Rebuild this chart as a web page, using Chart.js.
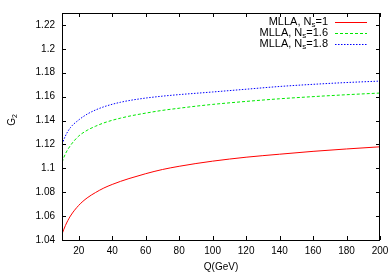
<!DOCTYPE html>
<html>
<head>
<meta charset="utf-8">
<script src="https://cdn.jsdelivr.net/npm/chart.js@4.4.0/dist/chart.umd.min.js"></script>
<style>
  html, body { margin: 0; padding: 0; background: #fff; }
  #wrap { width: 389px; height: 273px; position: relative; }
</style>
</head>
<body>
<div id="wrap"><canvas id="chart"></canvas></div>
<script>
// Q values (GeV)
const qValues = [10, 12, 15, 20, 25, 30, 35, 40, 45, 50, 60, 70, 80, 90, 100, 120, 140, 160, 180, 200];

// G2 curves
const g2Ns1  = [1.045, 1.052, 1.060, 1.069, 1.0752, 1.0797, 1.0835, 1.0865, 1.0891, 1.0914, 1.0955, 1.099, 1.1017, 1.104, 1.106, 1.1093, 1.1118, 1.1142, 1.1162, 1.118];
const g2Ns16 = [1.105, 1.112, 1.119, 1.127, 1.1318, 1.1352, 1.138, 1.1402, 1.142, 1.1436, 1.1462, 1.1485, 1.1503, 1.152, 1.1535, 1.156, 1.1582, 1.16, 1.1616, 1.163];
const g2Ns18 = [1.120, 1.127, 1.134, 1.1405, 1.1453, 1.1488, 1.1515, 1.1536, 1.1553, 1.1567, 1.1588, 1.1604, 1.1617, 1.1628, 1.1639, 1.1662, 1.1685, 1.1703, 1.1718, 1.173];

const seriesNs = ['1', '1.6', '1.8'];
const seriesColors = ['#ff0000', '#00e800', '#0000ff'];
const seriesDash = [[], [3, 2], [1.5, 1.5]];

const xTicks = [20, 40, 60, 80, 100, 120, 140, 160, 180, 200];
const yTicks = [1.04, 1.06, 1.08, 1.1, 1.12, 1.14, 1.16, 1.18, 1.2, 1.22];

const FONT = '"Liberation Sans", Arial, sans-serif';

function toPoints(ys) {
    return qValues.map((q, i) => ({ x: q, y: ys[i] }));
}

// border, inward ticks on all sides, legend and y title (with subscripts)
const gnuplotLook = {
    id: 'gnuplotLook',
    afterDraw(chart) {
        const ctx = chart.ctx;
        const a = chart.chartArea;
        const xs = chart.scales.x, ys = chart.scales.y;
        ctx.save();
        ctx.strokeStyle = '#000';
        ctx.lineWidth = 1;
        ctx.strokeRect(Math.round(a.left) + 0.5, Math.round(a.top) + 0.5,
            Math.round(a.right - a.left) - 1, Math.round(a.bottom - a.top));
        ctx.beginPath();
        const tl = 4;
        xTicks.forEach(v => {
            const px = Math.round(xs.getPixelForValue(v)) + 0.5;
            ctx.moveTo(px, a.bottom); ctx.lineTo(px, a.bottom - tl);
            ctx.moveTo(px, a.top); ctx.lineTo(px, a.top + tl);
        });
        yTicks.forEach(v => {
            const py = Math.round(ys.getPixelForValue(v)) + 0.5;
            ctx.moveTo(a.left, py); ctx.lineTo(a.left + tl, py);
            ctx.moveTo(a.right, py); ctx.lineTo(a.right - tl, py);
        });
        ctx.stroke();

        // legend
        const rightText = 328, lineX0 = 335, lineX1 = 367;
        const rowsY = [22, 33, 44];
        ctx.fillStyle = '#000';
        ctx.textBaseline = 'middle';
        seriesNs.forEach((ns, i) => {
            const y = rowsY[i];
            ctx.font = '11px ' + FONT;
            const wNs = ctx.measureText('=' + ns).width;
            ctx.font = '8px ' + FONT;
            const wS = ctx.measureText('s').width;
            ctx.font = '11px ' + FONT;
            const wMain = ctx.measureText('MLLA, N').width;
            let x = rightText - wNs - wS - wMain;
            ctx.textAlign = 'left';
            ctx.fillText('MLLA, N', x, y);
            x += wMain;
            ctx.font = '8px ' + FONT;
            ctx.fillText('s', x, y + 3);
            x += wS;
            ctx.font = '11px ' + FONT;
            ctx.fillText('=' + ns, x, y);

            ctx.beginPath();
            ctx.strokeStyle = seriesColors[i];
            ctx.setLineDash(seriesDash[i]);
            ctx.moveTo(lineX0, y + 0.5); ctx.lineTo(lineX1, y + 0.5);
            ctx.stroke();
            ctx.setLineDash([]);
        });

        // y title G2
        ctx.translate(12, 120);
        ctx.rotate(-Math.PI / 2);
        ctx.fillStyle = '#000';
        ctx.textAlign = 'left';
        ctx.font = '10px ' + FONT;
        const wG = ctx.measureText('G').width;
        ctx.font = '7px ' + FONT;
        const w2 = ctx.measureText('2').width;
        const x0 = -(wG + w2) / 2;
        ctx.font = '10px ' + FONT;
        ctx.fillText('G', x0, 0);
        ctx.font = '7px ' + FONT;
        ctx.fillText('2', x0 + wG, 3);
        ctx.restore();
    }
};

const datasets = [g2Ns1, g2Ns16, g2Ns18].map((ys, i) => ({
    label: 'MLLA, Ns=' + seriesNs[i],
    data: toPoints(ys),
    borderColor: seriesColors[i],
    borderDash: seriesDash[i],
    borderWidth: 1,
    pointRadius: 0,
    fill: false,
    cubicInterpolationMode: 'monotone'
}));

new Chart(document.getElementById('chart'), {
    type: 'line',
    data: { datasets: datasets },
    options: {
        responsive: true,
        maintainAspectRatio: false,
        animation: false,
        layout: { padding: { left: 0, right: 9, top: 13, bottom: 0 } },
        plugins: {
            legend: { display: false },
            tooltip: { enabled: false }
        },
        scales: {
            x: {
                type: 'linear',
                min: 10,
                max: 200,
                afterBuildTicks: s => { s.ticks = xTicks.map(v => ({ value: v })); },
                afterFit: s => { s.height = 33; s.paddingLeft = 0; s.paddingRight = 0; },
                grid: { display: false, drawTicks: false },
                border: { display: false },
                ticks: {
                    color: '#000',
                    font: { family: FONT, size: 10 },
                    padding: 5,
                    maxRotation: 0,
                    callback: v => String(v)
                },
                title: {
                    display: true,
                    text: 'Q(GeV)',
                    color: '#000',
                    font: { family: FONT, size: 10 },
                    padding: { top: 2, bottom: 0 }
                }
            },
            y: {
                min: 1.04,
                max: 1.23,
                afterBuildTicks: s => { s.ticks = yTicks.map(v => ({ value: v })); },
                afterFit: s => { s.width = 62; s.paddingTop = 0; s.paddingBottom = 0; },
                grid: { display: false, drawTicks: false },
                border: { display: false },
                ticks: {
                    color: '#000',
                    font: { family: FONT, size: 10 },
                    padding: 7,
                    callback: v => String(+v.toFixed(2))
                }
            }
        }
    },
    plugins: [gnuplotLook]
});
</script>
</body>
</html>
